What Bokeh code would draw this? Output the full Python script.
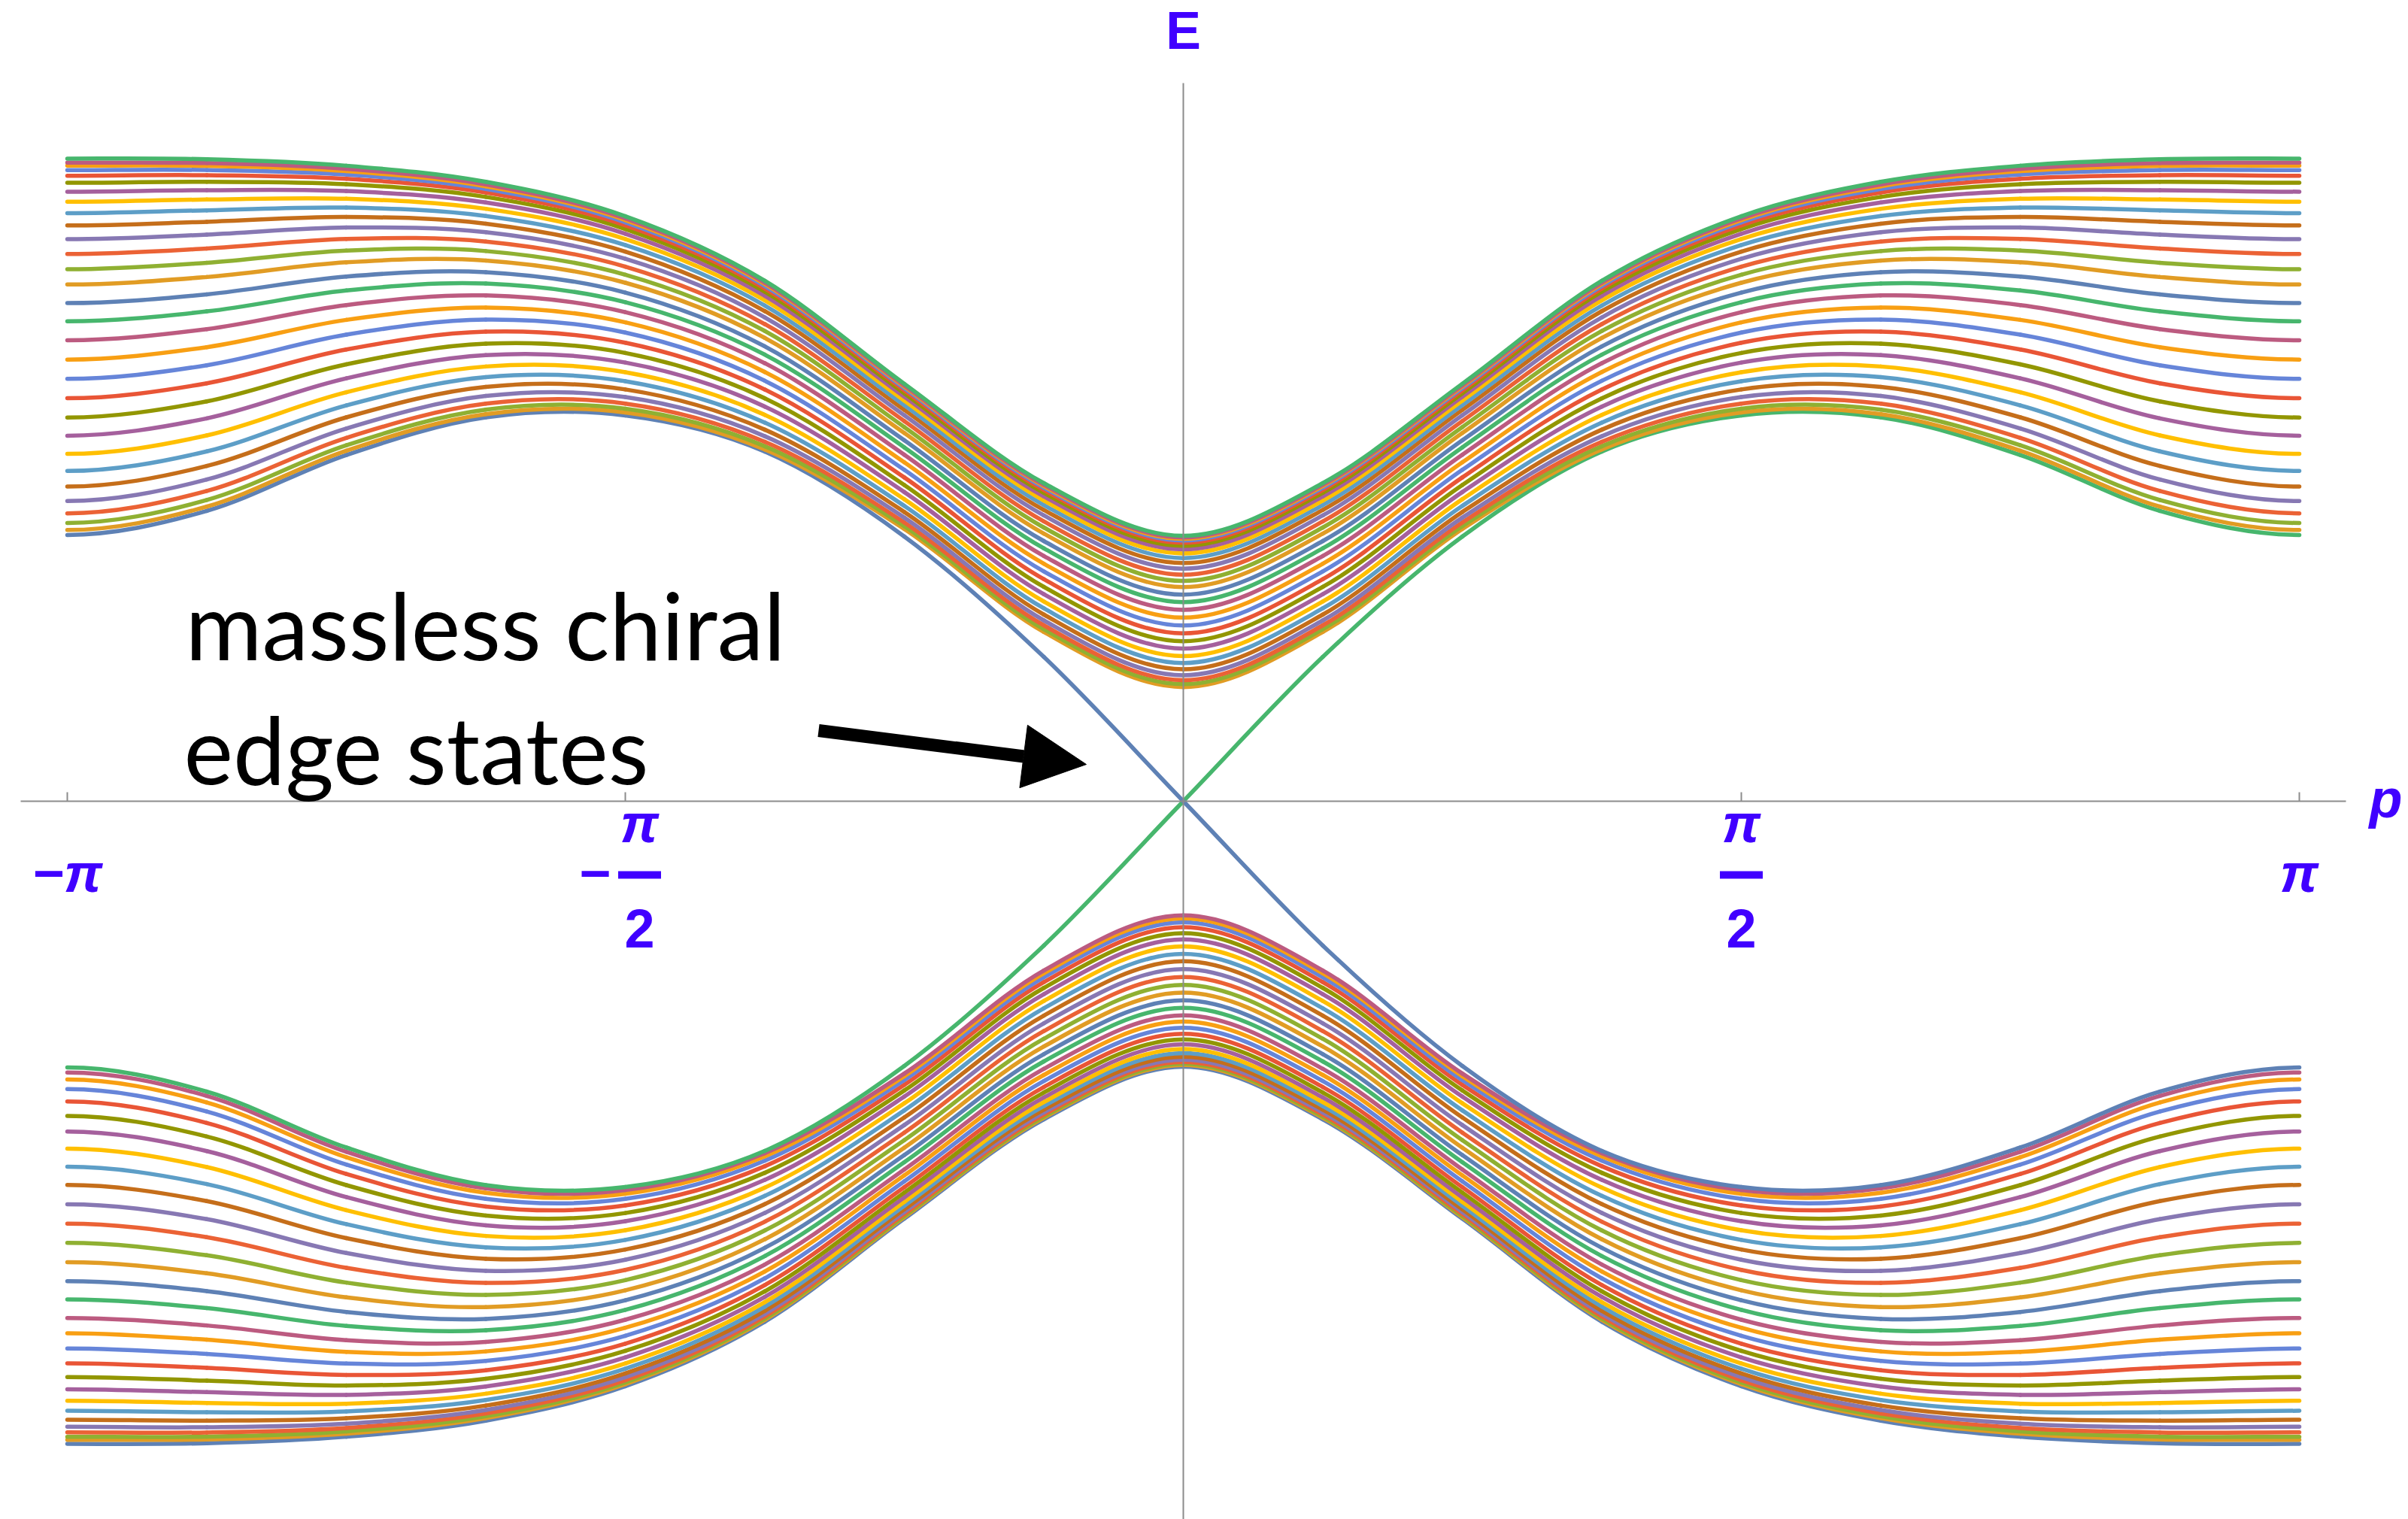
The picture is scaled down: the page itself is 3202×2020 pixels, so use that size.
import numpy as np
from bokeh.plotting import figure
from bokeh.models import Range1d, Arrow, NormalHead, ColumnDataSource
from bokeh.core.properties import value
from bokeh.embed import file_html
from bokeh.resources import INLINE

# ---------------------------------------------------------------------------
# Strip spectrum E(p) of a Chern insulator: 30 levels per band.
# The bulk levels are even in p and the spectrum is symmetric under E -> -E,
# so only the upper band for p >= 0 is tabulated.
# ---------------------------------------------------------------------------

# momentum samples, in units of pi
P_SAMPLES = [0.0, 0.125, 0.25, 0.375, 0.5, 0.625, 0.75, 0.875, 1.0]

# upper and lower envelope of the upper bulk band at each sample
UPPER_BAND_TOP = [1.234, 1.479, 1.941, 2.420, 2.720, 2.880, 2.955, 2.985, 2.988]
UPPER_BAND_BOTTOM = [0.531, 0.787, 1.266, 1.636, 1.808, 1.800, 1.630, 1.370, 1.261]

# position of each of the 29 bulk levels inside the band (0 = bottom, 1 = top)
LEVEL_FRACTIONS = [0.000, 0.019, 0.045, 0.078, 0.117, 0.159, 0.205, 0.254,
                   0.303, 0.355, 0.407, 0.459, 0.511, 0.562, 0.611, 0.661,
                   0.702, 0.743, 0.783, 0.820, 0.853, 0.884, 0.911, 0.935,
                   0.954, 0.969, 0.981, 0.989, 1.000]

# chiral edge state (odd in p) at the same momentum samples
EDGE_STATE = [0.0, 0.671, 1.231, 1.626, 1.794, 1.785, 1.610, 1.350, 1.238]

# axis ticks, in units of pi
TICK_VALUES = [-1.0, -0.5, 0.5, 1.0]
TICK_SIGNS = ["\u2212", "\u2212", "", ""]
TICK_NUMERATORS = ["\u03c0", "\u03c0", "\u03c0", "\u03c0"]
TICK_DENOMINATORS = ["", "2", "2", ""]

PALETTE = ["#5E81B5", "#E19C24", "#8FB032", "#EB6235", "#8778B3",
           "#C56E1A", "#5D9EC7", "#FFBF00", "#A5609D", "#929600",
           "#E95536", "#6685D9", "#F89F13", "#BC5B80", "#47B66D"]

LABEL_COLOR = "#4000FF"
AXIS_COLOR = "#8C8C8C"

# ---------------------------------------------------------------------------
# page geometry (pixels)
W, H = 3202, 2020
X0_PX, Y0_PX = 1573.0, 1065.0        # where p = 0 and E = 0 sit
PX_PER_RAD = 1484.0 / np.pi
PX_PER_E = 286.0


def dx(px):
    return (px - X0_PX) / PX_PER_RAD


def dy(py):
    return (Y0_PX - py) / PX_PER_E


# ---------------------------------------------------------------------------
# assemble the 60 levels, ordered from lowest (1) to highest (60)
p_half = np.array(P_SAMPLES) * np.pi
top = np.array(UPPER_BAND_TOP)
bottom = np.array(UPPER_BAND_BOTTOM)
upper = [bottom + f * (top - bottom) for f in LEVEL_FRACTIONS]   # levels 32..60
edge = np.array(EDGE_STATE)

p_full = np.concatenate([-p_half[::-1], p_half[1:]])


def even(e):
    return np.concatenate([e[::-1], e[1:]])


def odd(e):
    return np.concatenate([-e[::-1], e[1:]])


levels = []
for k in range(1, 30):
    levels.append(-even(upper[29 - k]))
levels.append(odd(edge))        # level 30: rises through E = 0
levels.append(-odd(edge))       # level 31: falls through E = 0
for u in upper:
    levels.append(even(u))


def bezier_segments(x, y):
    """Smooth cubic pieces through the samples (Catmull-Rom tangents)."""
    xe = np.concatenate([[2 * x[0] - x[1]], x, [2 * x[-1] - x[-2]]])
    ye = np.concatenate([[y[1]], y, [y[-2]]])
    segs = []
    for i in range(len(x) - 1):
        j = i + 1
        segs.append((xe[j], ye[j], xe[j + 1], ye[j + 1],
                     xe[j] + (xe[j + 1] - xe[j - 1]) / 6.0,
                     ye[j] + (ye[j + 1] - ye[j - 1]) / 6.0,
                     xe[j + 1] - (xe[j + 2] - xe[j]) / 6.0,
                     ye[j + 1] - (ye[j + 2] - ye[j]) / 6.0))
    return segs


cols = {k: [] for k in ("x0", "y0", "x1", "y1", "cx0", "cy0", "cx1", "cy1", "color")}
for n, e in enumerate(levels):
    for s in bezier_segments(p_full, e):
        for key, v in zip(("x0", "y0", "x1", "y1", "cx0", "cy0", "cx1", "cy1"), s):
            cols[key].append(v)
        cols["color"].append(PALETTE[n % len(PALETTE)])
src = ColumnDataSource(cols)

# ---------------------------------------------------------------------------
p = figure(width=W, height=H, output_backend="svg", toolbar_location=None,
           x_range=Range1d(dx(0), dx(W)), y_range=Range1d(dy(H), dy(0)),
           x_axis_type=None, y_axis_type=None, min_border=0)
p.grid.visible = False
p.outline_line_color = None
p.background_fill_color = "white"
p.border_fill_color = "white"

p.bezier(x0="x0", y0="y0", x1="x1", y1="y1", cx0="cx0", cy0="cy0",
         cx1="cx1", cy1="cy1", line_color="color", line_width=5.5,
         line_cap="round", source=src)

# axes through the origin, drawn over the curves
p.segment(x0=[dx(27), 0.0], y0=[0.0, dy(110)], x1=[dx(3119), 0.0], y1=[0.0, dy(H)],
          line_color=AXIS_COLOR, line_width=2)
tick_x = [t * np.pi for t in TICK_VALUES]
p.segment(x0=tick_x, y0=[0.0] * 4, x1=tick_x, y1=[12 / PX_PER_E] * 4,
          line_color=AXIS_COLOR, line_width=2)

# tick labels: plain multiples on the baseline, halves as stacked fractions
label_font = value("Liberation Sans")
plain_x, plain_t, frac_x, num_t, den_t, sign_x, sign_t = [], [], [], [], [], [], []
for t, s, num, den in zip(TICK_VALUES, TICK_SIGNS, TICK_NUMERATORS, TICK_DENOMINATORS):
    xt = t * np.pi
    if den:
        shift = 19 / PX_PER_RAD if s else 0.0
        frac_x.append(xt + shift)
        num_t.append(num)
        den_t.append(den)
        if s:
            sign_x.append(xt - 40 / PX_PER_RAD)
            sign_t.append(s)
    else:
        plain_x.append(xt)
        plain_t.append(s + num)

p.text(x=plain_x, y=[dy(1160)] * len(plain_x), text=plain_t, text_font=label_font,
       text_font_style="bold italic", text_font_size="72px", text_color=LABEL_COLOR,
       text_align="center", text_baseline="alphabetic")
p.text(x=frac_x, y=[dy(1094)] * len(frac_x), text=num_t, text_font=label_font,
       text_font_style="bold italic", text_font_size="72px", text_color=LABEL_COLOR,
       text_align="center", text_baseline="alphabetic")
p.text(x=frac_x, y=[dy(1234)] * len(frac_x), text=den_t, text_font=label_font,
       text_font_style="bold", text_font_size="72px", text_color=LABEL_COLOR,
       text_align="center", text_baseline="alphabetic")
p.rect(x=frac_x, y=[dy(1163)] * len(frac_x), width=57, height=10,
       width_units="screen", height_units="screen",
       fill_color=LABEL_COLOR, line_color=None)
p.text(x=sign_x, y=[dy(1160)] * len(sign_x), text=sign_t, text_font=label_font,
       text_font_style="bold", text_font_size="72px", text_color=LABEL_COLOR,
       text_align="center", text_baseline="alphabetic")

# axis names
p.text(x=[0.0], y=[dy(40)], text=["E"], text_font=label_font, text_font_style="bold",
       text_font_size="70px", text_color=LABEL_COLOR, text_align="center",
       text_baseline="alphabetic")
p.text(x=[dx(3172)], y=[dy(1061)], text=["p"], text_font=label_font,
       text_font_style="bold italic", text_font_size="72px", text_color=LABEL_COLOR,
       text_align="center", text_baseline="alphabetic")

# annotation
p.text(x=[dx(246), dx(244)], y=[dy(829), dy(994)],
       text=["massless chiral", "edge states"], text_font=value("Lato"),
       text_font_size="124px", text_color="black", text_align="left",
       text_baseline="alphabetic")
p.add_layout(Arrow(x_start=dx(1088), y_start=dy(971), x_end=dx(1444), y_end=dy(1016),
                   line_width=17, line_color="black",
                   end=NormalHead(size=84, fill_color="black", line_color="black",
                                  line_width=1)))

open("out.html", "w").write(file_html(p, INLINE))
